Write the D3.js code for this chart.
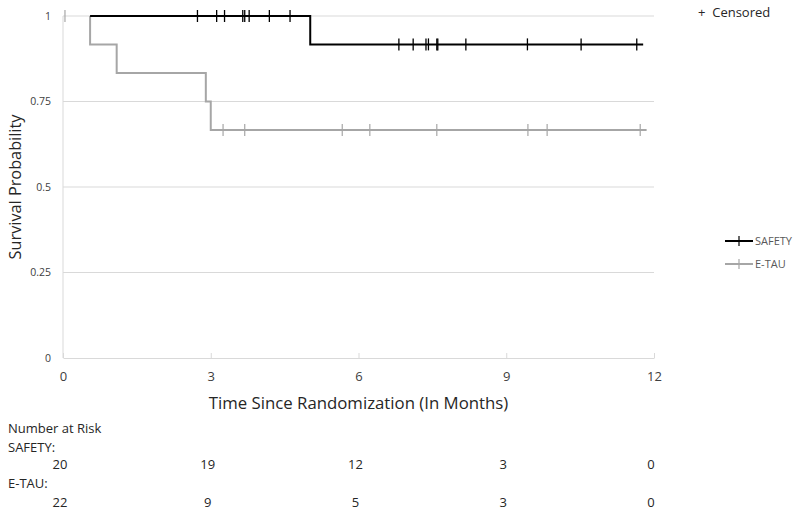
<!DOCTYPE html>
<html>
<head>
<meta charset="utf-8">
<script src="https://cdn.jsdelivr.net/npm/d3@7"></script>
<style>
  body { margin: 0; background: #fff; }
  text { font-family: "Open Sans", sans-serif; }
</style>
</head>
<body>
<svg id="chart" width="800" height="514"></svg>
<script>
// Kaplan-Meier step points (time in months, survival)
const safetyTime = [0.55, 5.02, 11.78];
const safetySurv = [1, 0.917, 0.917];
const etauTime = [0.55, 0.55, 1.09, 2.90, 3.00, 11.85];
const etauSurv = [1, 0.917, 0.833, 0.75, 0.667, 0.667];

// censored observations
const safetyCensor = [2.73, 3.12, 3.28, 3.65, 3.69, 3.78, 4.19, 4.61,
                      6.82, 7.11, 7.37, 7.42, 7.59, 7.61, 8.18, 9.43, 10.52, 11.65];
const etauCensor = [0.04, 3.25, 3.69, 5.67, 6.23, 7.59, 9.44, 9.83, 11.72];

const xTicks = [0, 3, 6, 9, 12];
const yTicks = [0, 0.25, 0.5, 0.75, 1];
const riskSafety = [20, 19, 12, 3, 0];
const riskEtau = [22, 9, 5, 3, 0];

const svg = d3.select("#chart");
const margin = {top: 16, right: 146, bottom: 156, left: 63};
const W = 800, H = 514;

const x = d3.scaleLinear().domain([0, 12]).range([margin.left, W - margin.right]);
const y = d3.scaleLinear().domain([0, 1]).range([H - margin.bottom, margin.top]);

// gridlines
svg.append("g")
  .selectAll("line")
  .data(yTicks.filter(d => d > 0))
  .join("line")
    .attr("x1", x(0)).attr("x2", x(12))
    .attr("y1", d => y(d)).attr("y2", d => y(d))
    .attr("stroke", "#d9d9d9");

// y axis line
svg.append("line")
  .attr("x1", x(0)).attr("x2", x(0))
  .attr("y1", y(0)).attr("y2", y(1))
  .attr("stroke", "#d9d9d9");

// x axis
const xAxis = svg.append("g")
  .attr("transform", `translate(0,${y(0)})`)
  .call(d3.axisBottom(x).tickValues(xTicks).tickSizeInner(-5).tickSizeOuter(0).tickPadding(14));
xAxis.select(".domain").attr("stroke", "#d9d9d9");
xAxis.selectAll(".tick line").attr("stroke", "#d9d9d9");
xAxis.selectAll("text").attr("font-size", 13).attr("fill", "#404040")
  .attr("font-family", "Open Sans, sans-serif");

// y tick labels
svg.append("g")
  .selectAll("text")
  .data(yTicks)
  .join("text")
    .attr("x", x(0) - 12)
    .attr("y", d => y(d))
    .attr("dy", "0.35em")
    .attr("text-anchor", "end")
    .attr("font-size", 10.5)
    .attr("fill", "#404040")
    .text(d => d);

// axis titles
svg.append("text")
  .attr("x", (x(0) + x(12)) / 2)
  .attr("y", 409)
  .attr("text-anchor", "middle")
  .attr("font-size", 16.8)
  .attr("fill", "#262626")
  .text("Time Since Randomization (In Months)");

svg.append("text")
  .attr("transform", `translate(21,${(y(0) + y(1)) / 2}) rotate(-90)`)
  .attr("text-anchor", "middle")
  .attr("font-size", 16.3)
  .attr("fill", "#262626")
  .text("Survival Probability");

// curves
const line = d3.line()
  .x(d => x(d[0])).y(d => y(d[1]))
  .curve(d3.curveStepAfter);

function survAt(times, surv, t) {
  let s = surv[0];
  for (let i = 0; i < times.length; i++) if (times[i] <= t) s = surv[i];
  return s;
}

const series = [
  {name: "E-TAU", times: etauTime, surv: etauSurv, censor: etauCensor, color: "#a6a6a6", tick: 1.2},
  {name: "SAFETY", times: safetyTime, surv: safetySurv, censor: safetyCensor, color: "#000000", tick: 1.3}
];

series.forEach(s => {
  svg.append("path")
    .datum(d3.zip(s.times, s.surv))
    .attr("fill", "none")
    .attr("stroke", s.color)
    .attr("stroke-width", 2)
    .attr("d", line);

  svg.append("g")
    .selectAll("line")
    .data(s.censor)
    .join("line")
      .attr("x1", d => x(d)).attr("x2", d => x(d))
      .attr("y1", d => y(survAt(s.times, s.surv, d)) - 6)
      .attr("y2", d => y(survAt(s.times, s.surv, d)) + 6)
      .attr("stroke", s.color)
      .attr("stroke-width", s.tick);
});

// censored note
svg.append("text")
  .attr("x", 698).attr("y", 17)
  .attr("font-size", 13)
  .attr("fill", "#262626")
  .attr("xml:space", "preserve")
  .style("white-space", "pre")
  .text("+  Censored");

// legend
const legend = svg.append("g");
[{name: "SAFETY", color: "#000000", yy: 241}, {name: "E-TAU", color: "#a6a6a6", yy: 264}].forEach(l => {
  legend.append("line")
    .attr("x1", 725).attr("x2", 753).attr("y1", l.yy).attr("y2", l.yy)
    .attr("stroke", l.color).attr("stroke-width", 2);
  legend.append("line")
    .attr("x1", 739).attr("x2", 739).attr("y1", l.yy - 5).attr("y2", l.yy + 5)
    .attr("stroke", l.color).attr("stroke-width", 1.2);
  legend.append("text")
    .attr("x", 755).attr("y", l.yy).attr("dy", "0.35em")
    .attr("font-size", 11)
    .attr("fill", "#595959")
    .text(l.name);
});

// number at risk table
const risk = svg.append("g").attr("font-size", 13).attr("fill", "#262626");
risk.append("text").attr("x", 8).attr("y", 433).text("Number at Risk");
risk.append("text").attr("x", 8).attr("y", 452).text("SAFETY:");
risk.append("text").attr("x", 8).attr("y", 488).text("E-TAU:");
risk.append("g").selectAll("text")
  .data(riskSafety)
  .join("text")
    .attr("x", (d, i) => x(xTicks[i]) - 3)
    .attr("y", 469)
    .attr("text-anchor", "middle")
    .text(d => d);
risk.append("g").selectAll("text")
  .data(riskEtau)
  .join("text")
    .attr("x", (d, i) => x(xTicks[i]) - 3)
    .attr("y", 507)
    .attr("text-anchor", "middle")
    .text(d => d);
</script>
</body>
</html>
